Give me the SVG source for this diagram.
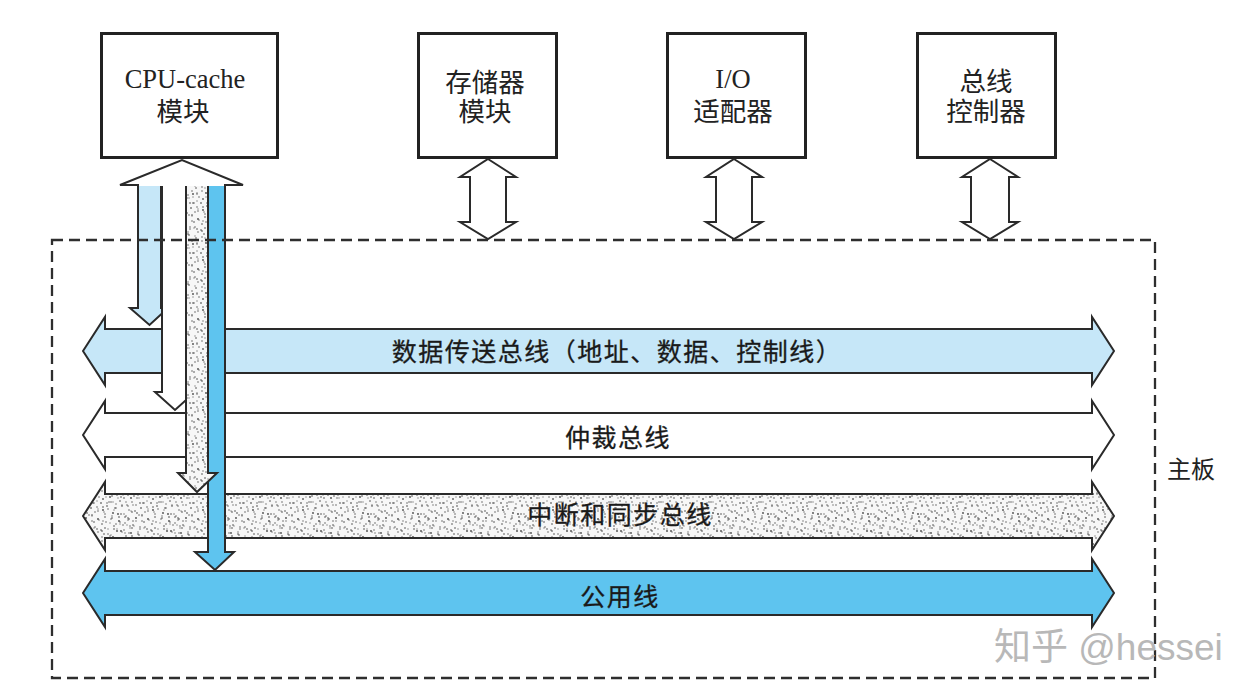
<svg xmlns="http://www.w3.org/2000/svg" width="1259" height="694" viewBox="0 0 1259 694">
<style>
.box{fill:#fff;stroke:#222;stroke-width:3}
.lbl{font-family:"Liberation Serif","Noto Sans CJK SC",serif;font-size:26.5px;fill:#222;text-anchor:middle}
.bl{font-family:"Noto Sans CJK SC",sans-serif;font-size:25px;fill:#1a1a1a;text-anchor:middle;letter-spacing:1.5px;stroke:#1a1a1a;stroke-width:0.3}
.ar{stroke:#2a2a2a;stroke-width:2;stroke-linejoin:miter}
.w{fill:#fff}.lb{fill:#c6e7f8}.db{fill:#5ec4ef}.st{fill:url(#stip)}
</style>
<defs>
<g id="dots">
<circle cx="3" cy="7" r="0.8"/><circle cx="11" cy="2" r="0.7"/><circle cx="18" cy="14" r="0.9"/><circle cx="27" cy="5" r="0.7"/><circle cx="35" cy="11" r="0.8"/><circle cx="44" cy="3" r="0.7"/><circle cx="48" cy="19" r="0.9"/><circle cx="6" cy="22" r="0.7"/><circle cx="14" cy="29" r="0.8"/><circle cx="23" cy="25" r="0.7"/><circle cx="31" cy="33" r="0.9"/><circle cx="40" cy="27" r="0.7"/><circle cx="46" cy="38" r="0.8"/><circle cx="2" cy="41" r="0.7"/><circle cx="10" cy="47" r="0.9"/><circle cx="19" cy="39" r="0.7"/><circle cx="28" cy="45" r="0.8"/><circle cx="37" cy="48" r="0.7"/><circle cx="43" cy="44" r="0.9"/><circle cx="8" cy="34" r="0.7"/><circle cx="25" cy="17" r="0.8"/><circle cx="33" cy="21" r="0.7"/><circle cx="15" cy="8" r="0.8"/><circle cx="39" cy="15" r="0.7"/><circle cx="21" cy="31" r="0.9"/><circle cx="29" cy="10" r="0.7"/><circle cx="47" cy="29" r="0.8"/><circle cx="5" cy="14" r="0.7"/><circle cx="12" cy="18" r="0.8"/><circle cx="36" cy="40" r="0.7"/><circle cx="17" cy="45" r="0.8"/><circle cx="41" cy="8" r="0.7"/><circle cx="24" cy="48" r="0.8"/><circle cx="32" cy="2" r="0.7"/><circle cx="1" cy="30" r="0.8"/><circle cx="45" cy="12" r="0.7"/><circle cx="13" cy="37" r="0.9"/><circle cx="30" cy="26" r="0.7"/><circle cx="38" cy="34" r="0.8"/><circle cx="20" cy="22" r="0.7"/><circle cx="7" cy="3" r="0.7"/><circle cx="26" cy="36" r="0.8"/><circle cx="42" cy="21" r="0.7"/><circle cx="16" cy="24" r="0.7"/><circle cx="34" cy="46" r="0.8"/><circle cx="9" cy="42" r="0.7"/><circle cx="22" cy="6" r="0.8"/><circle cx="49" cy="47" r="0.7"/><circle cx="3" cy="49" r="0.7"/><circle cx="28" cy="18" r="0.8"/>
</g>
<pattern id="stip" width="50" height="50" patternUnits="userSpaceOnUse">
<rect width="50" height="50" fill="#f7f7f7"/>
<g fill="#4a4a4a">
<use href="#dots"/>
<use href="#dots" transform="rotate(90 25 25)"/>
<use href="#dots" transform="rotate(180 25 25)" fill-opacity="0.7"/>
</g>
</pattern>
</defs>

<g id="cpu-cache">
<rect class="box" x="101.5" y="33.5" width="176" height="124"/>
<text class="lbl" x="185" y="88">CPU-cache</text>
<text class="lbl" x="183" y="121">模块</text>
</g>
<g id="memory">
<rect class="box" x="418.5" y="33.5" width="138" height="124"/>
<text class="lbl" x="485" y="92">存储器</text>
<text class="lbl" x="485" y="121">模块</text>
</g>
<g id="io-adapter">
<rect class="box" x="667.5" y="33.5" width="138" height="124"/>
<text class="lbl" x="733" y="88">I/O</text>
<text class="lbl" x="733" y="121">适配器</text>
</g>
<g id="bus-controller">
<rect class="box" x="917.5" y="33.5" width="138" height="124"/>
<text class="lbl" x="986" y="91">总线</text>
<text class="lbl" x="986" y="121">控制器</text>
</g>

<g id="data-bus">
<path class="ar lb" d="M83,351 L105,317 L105,329 L1092,329 L1092,317 L1114,351 L1092,385 L1092,373 L105,373 L105,385 Z"/>
<text class="bl" x="617" y="361">数据传送总线（地址、数据、控制线）</text>
</g>
<g id="arbitration-bus">
<path class="ar w" d="M83,435 L105,401 L105,413 L1092,413 L1092,401 L1114,435 L1092,469 L1092,457 L105,457 L105,469 Z"/>
<text class="bl" x="618" y="447">仲裁总线</text>
</g>
<g id="interrupt-bus">
<path class="ar st" d="M83,516 L105,482 L105,494 L1092,494 L1092,482 L1114,516 L1092,550 L1092,538 L105,538 L105,550 Z"/>
<text class="bl" x="620" y="524">中断和同步总线</text>
</g>
<g id="common-bus">
<path class="ar db" d="M83,593 L105,559 L105,571 L1092,571 L1092,559 L1114,593 L1092,627 L1092,615 L105,615 L105,627 Z"/>
<text class="bl" x="620" y="606">公用线</text>
</g>

<g id="connectors">
<path class="ar w" d="M488,159 L516,177 L506,177 L506,222 L516,222 L488,239 L460,222 L470,222 L470,177 L460,177 Z"/>
<path class="ar w" d="M734,159 L762,177 L752,177 L752,222 L762,222 L734,239 L706,222 L716,222 L716,177 L706,177 Z"/>
<path class="ar w" d="M990,159 L1018,177 L1009,177 L1009,222 L1018,222 L990,239 L962,222 L971,222 L971,177 L962,177 Z"/>
<polygon points="120,185 182,160 243,185" fill="#fff"/>
<path class="ar" fill="none" d="M138,186 L138,185 L120,185 L182,160 L243,185 L225,185 L225,186"/>
<path class="ar lb" d="M138,186 L138,308 L130,308 L149.5,325 L168,308 L161,308 L161,186"/>
<path class="ar w" d="M162,186 L162,392 L155,392 L175,410 L195,392 L186,392 L186,186"/>
<path class="ar db" d="M208,186 L208,552 L195,552 L215,570 L234,552 L225,552 L225,186"/>
<path class="ar st" d="M186,186 L186,473 L178,473 L197,492 L217,473 L208,473 L208,186"/>
</g>

<g id="mainboard">
<rect x="52" y="240" width="1103" height="438" fill="none" stroke="#2e2e2e" stroke-width="2.3" stroke-dasharray="11 6"/>
<text x="1167" y="478" font-family="Noto Sans CJK SC, sans-serif" font-size="24" fill="#222">主板</text>
</g>

<text x="994" y="660" font-family="Liberation Sans, Noto Sans CJK SC, sans-serif" font-size="37" fill="#b8b8b8">知乎 @hessei</text>
</svg>
